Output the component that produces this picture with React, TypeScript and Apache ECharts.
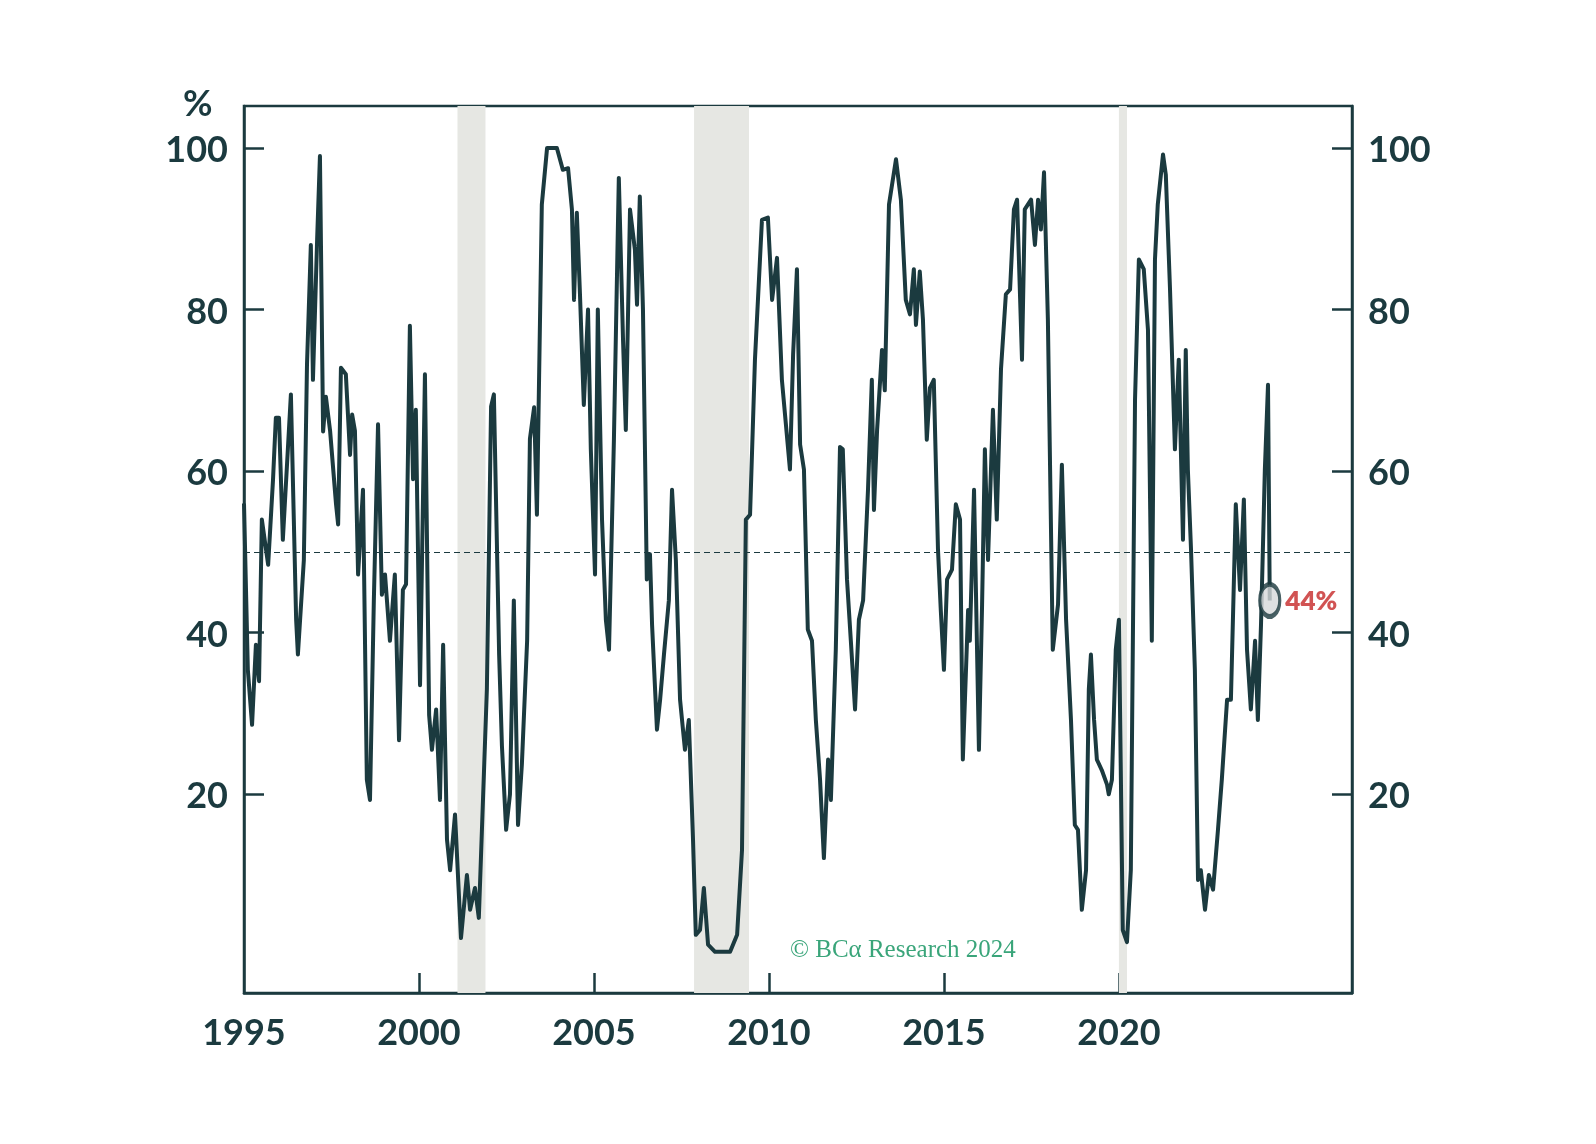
import { useEffect, useRef } from "react";
import * as echarts from "echarts";

// decimal years and % values
const dates = [
  1995.0, 1995.11, 1995.23, 1995.34, 1995.43, 1995.51, 1995.69, 1995.83, 1995.91, 1996.0,
  1996.11, 1996.34, 1996.49, 1996.54, 1996.71, 1996.8, 1996.91, 1996.97, 1997.09, 1997.17,
  1997.26, 1997.34, 1997.46, 1997.63, 1997.69, 1997.77, 1997.91, 1998.03, 1998.09, 1998.17,
  1998.26, 1998.4, 1998.51, 1998.6, 1998.71, 1998.83, 1998.94, 1999.03, 1999.17, 1999.31,
  1999.43, 1999.54, 1999.63, 1999.74, 1999.83, 1999.91, 2000.03, 2000.17, 2000.29, 2000.37,
  2000.49, 2000.6, 2000.69, 2000.8, 2000.89, 2001.03, 2001.2, 2001.37, 2001.46, 2001.6,
  2001.71, 2001.94, 2002.06, 2002.14, 2002.29, 2002.37, 2002.49, 2002.6, 2002.71, 2002.83,
  2002.94, 2003.09, 2003.17, 2003.29, 2003.37, 2003.51, 2003.66, 2003.94, 2004.11, 2004.26,
  2004.37, 2004.43, 2004.51, 2004.6, 2004.71, 2004.83, 2004.91, 2005.03, 2005.11, 2005.23,
  2005.34, 2005.43, 2005.57, 2005.71, 2005.83, 2005.91, 2006.03, 2006.17, 2006.23, 2006.31,
  2006.4, 2006.51, 2006.6, 2006.66, 2006.8, 2006.89, 2007.0, 2007.14, 2007.23, 2007.34,
  2007.46, 2007.6, 2007.71, 2007.83, 2007.91, 2008.03, 2008.14, 2008.26, 2008.46, 2008.89,
  2009.09, 2009.23, 2009.34, 2009.46, 2009.6, 2009.8, 2009.97, 2010.09, 2010.23, 2010.37,
  2010.6, 2010.69, 2010.8, 2010.89, 2011.0, 2011.11, 2011.23, 2011.34, 2011.46, 2011.57,
  2011.69, 2011.77, 2011.91, 2012.03, 2012.11, 2012.23, 2012.34, 2012.46, 2012.57, 2012.69,
  2012.83, 2012.94, 2013.0, 2013.09, 2013.23, 2013.31, 2013.43, 2013.63, 2013.77, 2013.91,
  2014.03, 2014.14, 2014.2, 2014.31, 2014.4, 2014.51, 2014.6, 2014.71, 2014.83, 2014.91,
  2015.0, 2015.09, 2015.23, 2015.34, 2015.46, 2015.54, 2015.69, 2015.74, 2015.86, 2016.0,
  2016.09, 2016.17, 2016.26, 2016.4, 2016.51, 2016.63, 2016.77, 2016.89, 2017.0, 2017.09,
  2017.23, 2017.31, 2017.49, 2017.6, 2017.69, 2017.77, 2017.86, 2017.97, 2018.11, 2018.26,
  2018.37, 2018.49, 2018.63, 2018.74, 2018.83, 2018.94, 2019.06, 2019.14, 2019.2, 2019.29,
  2019.37, 2019.51, 2019.66, 2019.71, 2019.8, 2019.91, 2020.0, 2020.11, 2020.23, 2020.34,
  2020.46, 2020.57, 2020.71, 2020.83, 2020.94, 2021.03, 2021.11, 2021.26, 2021.34, 2021.46,
  2021.6, 2021.71, 2021.83, 2021.91, 2021.97, 2022.06, 2022.17, 2022.26, 2022.34, 2022.46,
  2022.57, 2022.69, 2022.83, 2022.94, 2023.09, 2023.2, 2023.34, 2023.46, 2023.57, 2023.66,
  2023.77, 2023.89, 2023.97, 2024.06, 2024.17, 2024.26, 2024.31,
];

const values = [
  56, 35.4, 28.6, 38.5, 34, 54, 48.4, 59, 66.6, 66.6,
  51.5, 69.5, 41.6, 37.3, 49, 73.2, 88, 71.3, 88.7, 99,
  64.9, 69.2, 65, 55.9, 53.4, 72.8, 72, 62, 67, 65,
  47.2, 57.7, 21.8, 19.3, 44, 65.8, 44.7, 47.2, 39, 47.2,
  26.7, 45.3, 46, 78, 59, 67.6, 33.5, 72, 29.8, 25.5,
  30.5, 19.3, 38.5, 14.4, 10.6, 17.5, 2.2, 10, 5.7, 8.4,
  4.7, 33, 68, 69.5, 37.3, 26, 15.6, 20, 44, 16.2,
  23.7, 39, 64, 67.9, 54.6, 93, 100, 100, 97.3, 97.5,
  92.4, 81.2, 92, 81.9, 68.2, 80, 62.7, 47.2, 80, 54,
  41.6, 37.9, 63.9, 96.3, 76.3, 65.1, 92.4, 87.4, 80.6, 94,
  80, 46.6, 49.7, 41, 28, 31.7, 37.3, 44, 57.7, 49,
  31.7, 25.5, 29.2, 14.4, 2.6, 3.2, 8.4, 1.4, 0.5, 0.5,
  2.6, 13.1, 54, 54.6, 73.8, 91.1, 91.4, 81.2, 86.4, 71.3,
  60.2, 74.4, 85, 63.3, 60.2, 40.4, 39, 29.2, 21.8, 12.1,
  24.3, 19.3, 37.9, 63, 62.7, 46.6, 39, 30.5, 41.6, 44,
  57.7, 71.3, 55.2, 65.1, 75, 70, 93, 98.6, 93.6, 81.2,
  79.4, 85, 78.1, 84.7, 78.8, 63.9, 70.3, 71.3, 50.3, 42.8,
  35.4, 46.6, 47.8, 55.9, 54, 24.3, 42.8, 39, 57.7, 25.5,
  43.5, 62.7, 49, 67.6, 54, 72.6, 81.9, 82.5, 92.4, 93.6,
  73.8, 92.4, 93.6, 88, 93.6, 89.9, 97, 78.8, 37.9, 43.5,
  60.8, 41.6, 29.2, 16.2, 15.6, 5.7, 10.6, 33, 37.3, 29.2,
  24.3, 23, 21.2, 20, 21.8, 37.9, 41.6, 3.2, 1.7, 10.6,
  68.8, 86.2, 85, 77.5, 39, 86.2, 93, 99.2, 96.7, 82.5,
  62.7, 73.8, 51.5, 75, 60.2, 50.3, 35.4, 9.4, 10.6, 5.7,
  10, 8.2, 15.6, 21.8, 31.7, 31.7, 55.9, 45.3, 56.5, 37.9,
  30.5, 39, 29.2, 41, 60.2, 70.7, 44,
];

const recessions: [number, number][] = [
  [2001.1, 2001.9],
  [2007.86, 2009.43],
  [2020.0, 2020.23],
];

const yTicks = [20, 40, 60, 80, 100];
const xLabels = [1995, 2000, 2005, 2010, 2015, 2020];
const xTicks = [2000, 2005, 2010, 2015, 2020];
const latest: [number, number] = [2024.31, 44];

const INK = "#1b3a3f";
const FONT = "Lato";

const App = () => {
  const ref = useRef<HTMLDivElement>(null);

  useEffect(() => {
    if (!ref.current) return;
    const chart = echarts.init(ref.current, null, { renderer: "svg" });

    const yAxisBase = {
      type: "value" as const,
      min: -4.6,
      max: 105.2,
      splitLine: { show: false },
      axisLine: { show: true, lineStyle: { color: INK, width: 2.5 } },
      axisTick: {
        show: true,
        inside: true,
        length: 20,
        customValues: yTicks,
        lineStyle: { color: INK, width: 2.5 },
      },
      axisLabel: {
        customValues: yTicks,
        color: INK,
        fontSize: 36,
        fontWeight: 700,
        fontFamily: FONT,
        margin: 16,
      },
    };

    chart.setOption({
      animation: false,
      grid: {
        left: 244,
        right: 244,
        top: 106,
        bottom: 151,
        show: true,
        borderColor: INK,
        borderWidth: 2.5,
      },
      xAxis: {
        type: "value",
        min: 1995,
        max: 2026.66,
        splitLine: { show: false },
        axisLine: { show: true, onZero: false, lineStyle: { color: INK, width: 2.5 } },
        axisTick: {
          show: true,
          inside: true,
          length: 20,
          customValues: xTicks,
          lineStyle: { color: INK, width: 2.5 },
        },
        axisLabel: {
          customValues: xLabels,
          formatter: (v: number) => String(v),
          color: INK,
          fontSize: 36,
          fontWeight: 700,
          fontFamily: FONT,
          margin: 20,
        },
      },
      yAxis: [
        { ...yAxisBase, position: "left" },
        { ...yAxisBase, position: "right" },
      ],
      graphic: [
        {
          type: "text",
          left: 183,
          top: 84,
          style: { text: "%", fill: INK, fontSize: 36, fontWeight: 700, fontFamily: FONT },
        },
        {
          type: "text",
          left: 790,
          top: 936,
          style: {
            text: "© BCα Research 2024",
            fill: "#3aa57a",
            fontSize: 25,
            fontFamily: "Liberation Serif",
          },
        },
      ],
      series: [
        {
          type: "line",
          data: dates.map((d, i) => [d, values[i]]),
          showSymbol: false,
          lineStyle: { color: INK, width: 4, join: "round" },
          markArea: {
            silent: true,
            itemStyle: { color: "#e6e7e3" },
            data: recessions.map(([a, b]) => [{ xAxis: a }, { xAxis: b }]),
          },
          markLine: {
            silent: true,
            symbol: "none",
            label: { show: false },
            lineStyle: { color: INK, type: [6, 4], width: 1.2 },
            data: [{ yAxis: 50 }],
          },
          z: 3,
        },
        {
          type: "scatter",
          data: [latest],
          symbol: "circle",
          symbolSize: [20, 32],
          itemStyle: { color: "#d6d8da", borderColor: INK, borderWidth: 4 },
          label: {
            show: true,
            position: "right",
            distance: 4,
            formatter: "44%",
            color: "#c62828",
            fontSize: 26,
            fontWeight: 800,
            fontFamily: FONT,
          },
          z: 5,
        },
      ],
    });

    return () => chart.dispose();
  }, []);

  return (
    <div
      ref={ref}
      style={{ position: "fixed", left: 0, top: 0, width: 1596, height: 1144 }}
    />
  );
};

export default App;
